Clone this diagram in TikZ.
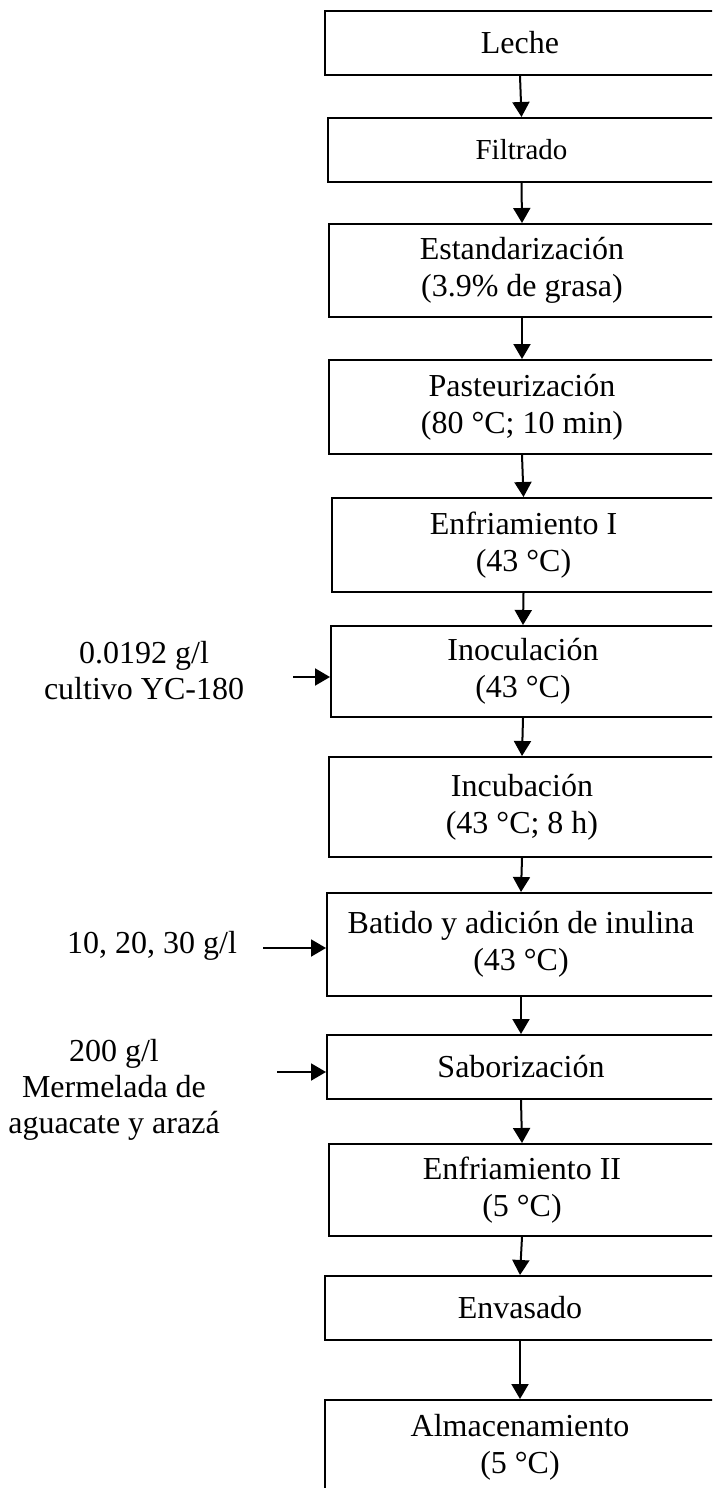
\documentclass[tikz,border=0pt]{standalone}
\usepackage{fontspec}
\setmainfont{Liberation Serif}
\usetikzlibrary{arrows.meta}

\tikzset{
	paso/.style={draw, line width=1pt, align=center, anchor=west, inner sep=0pt,
		font=\fontsize{16}{18.5}\selectfont},
	insumo/.style={align=center, inner sep=0pt, font=\fontsize{16}{18}\selectfont},
	flecha/.style={-{Triangle[length=7.5pt, width=8.5pt]}, line width=1pt}
}

\begin{document}
\begin{tikzpicture}[x=0.5pt, y=-0.5pt]
	\clip (0, 0) rectangle (712, 1488);

	% pasos del proceso
	\foreach \nombre/\yc/\alto/\izq/\texto in {
			leche/43/64/324/{Leche},
			estand/270.5/93/328/{Estandarizaci\'on\\(3.9\% de grasa)},
			pasteur/407/94/328/{Pasteurizaci\'on\\(80 °C; 10 min)},
			enfriuno/545/94/331/{Enfriamiento I\\(43 °C)},
			inocul/671.5/91/330/{Inoculaci\'on\\(43 °C)},
			incub/807/100/328/{Incubaci\'on\\(43 °C; 8 h)},
			batido/944.5/103/326/{Batido y adici\'on de inulina\\(43 °C)},
			sabor/1067/64/326/{Saborizaci\'on},
			enfridos/1190/92/328/{Enfriamiento II\\(5 °C)},
			envas/1308/64/324/{Envasado},
			almac/1447/94/324/{Almacenamiento\\(5 °C)}}
		\node[paso, minimum width={(714-\izq)*0.5pt}, minimum height={\alto*0.5pt}]
			(\nombre) at (\izq, \yc) {\texto};

	\node[paso, minimum width={387*0.5pt}, minimum height={64*0.5pt},
		font=\fontsize{14.5}{17}\selectfont] (filtrado) at (327, 150) {Filtrado};

	\foreach \a/\b in {leche/filtrado, filtrado/estand, estand/pasteur, pasteur/enfriuno,
			enfriuno/inocul, inocul/incub, incub/batido, batido/sabor, sabor/enfridos,
			enfridos/envas, envas/almac}
		\draw[flecha] (\a.south) -- (\b.north);

	% insumos
	\node[insumo] (cultivo) at (144, 671) {0.0192 g/l\\cultivo YC-180};
	\node[insumo] (inulina) at (152, 946) {10, 20, 30 g/l};
	\node[insumo] (mermelada) at (114, 1090) {200 g/l\\Mermelada de\\aguacate y araz\'a};

	\coordinate (c1) at (293, 677);
	\coordinate (c2) at (263, 948);
	\coordinate (c3) at (277, 1072);

	\draw[flecha] (c1) -- (c1 -| inocul.west);
	\draw[flecha] (c2) -- (c2 -| batido.west);
	\draw[flecha] (c3) -- (c3 -| sabor.west);
\end{tikzpicture}
\end{document}
